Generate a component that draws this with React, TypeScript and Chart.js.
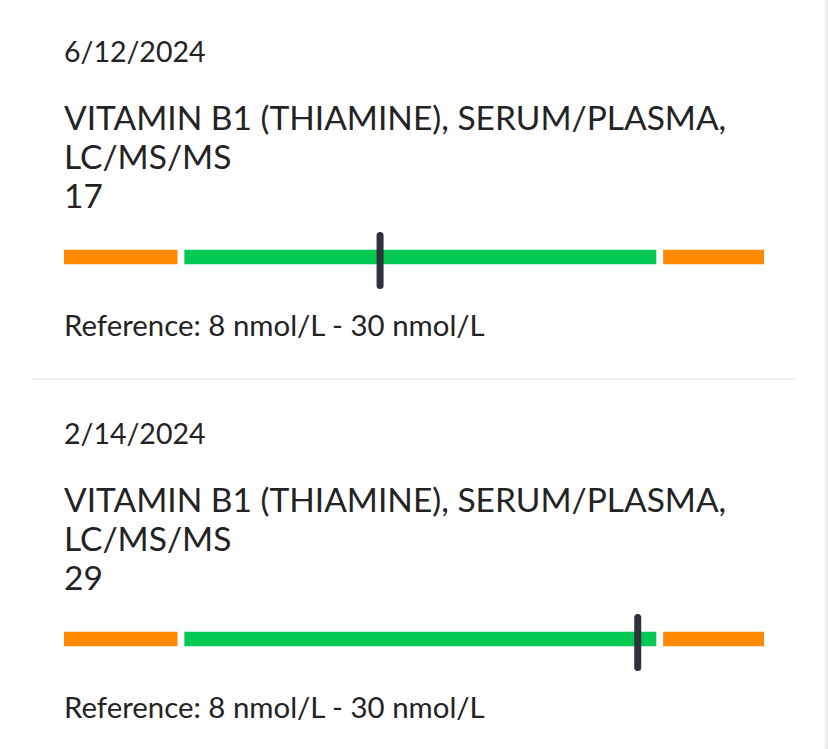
import React, { useEffect, useRef } from "react";
import { Chart, registerables } from "chart.js";

Chart.register(...registerables);

const dates = ["6/12/2024", "2/14/2024"];
const testName = "VITAMIN B1 (THIAMINE), SERUM/PLASMA, LC/MS/MS";
const results = [17, 29];
const refLow = 8;
const refHigh = 30;
const unit = "nmol/L";
const trackMin = 2.28;
const trackMax = 34.88;
const lowBand = [2.28, 7.55];
const normalBand = [7.9, 29.85];
const highBand = [30.2, 34.88];

const ORANGE = "#ff8a00";
const GREEN = "#03c853";
const MARKER = "#2d3339";
const TEXT = "#232323";
const FONT = "Lato, 'Noto Sans', sans-serif";

function RangeBar({ value }: { value: number }) {
  const ref = useRef<HTMLCanvasElement | null>(null);
  useEffect(() => {
    if (!ref.current) return;
    const markerPlugin = {
      id: "marker",
      afterDatasetsDraw(chart: any) {
        const ctx = chart.ctx;
        const x = chart.scales.x.getPixelForValue(value);
        const bar = chart.getDatasetMeta(0).data[0];
        const y = bar.y;
        ctx.save();
        ctx.strokeStyle = MARKER;
        ctx.lineWidth = 7;
        ctx.lineCap = "round";
        ctx.beginPath();
        ctx.moveTo(x, y - 21.5);
        ctx.lineTo(x, y + 28.5);
        ctx.stroke();
        ctx.restore();
      },
    };
    const chart = new Chart(ref.current, {
      type: "bar",
      data: {
        labels: ["range"],
        datasets: [
          { data: [lowBand as any], backgroundColor: ORANGE },
          { data: [normalBand as any], backgroundColor: GREEN },
          { data: [highBand as any], backgroundColor: ORANGE },
        ],
      },
      options: {
        indexAxis: "y",
        responsive: false,
        animation: false,
        events: [],
        layout: { padding: { top: 0, bottom: 6, left: 0, right: 0 } },
        datasets: { bar: { grouped: false, barThickness: 14, borderWidth: 0 } } as any,
        scales: {
          x: { type: "linear", min: trackMin, max: trackMax, display: false },
          y: { display: false },
        },
        plugins: { legend: { display: false }, tooltip: { enabled: false } },
      },
      plugins: [markerPlugin],
    });
    return () => chart.destroy();
  }, [value]);
  return (
    <canvas
      ref={ref}
      width={700}
      height={72}
      style={{ position: "absolute", left: 64, top: 224, width: 700, height: 72 }}
    />
  );
}

function Card({ top, date, value }: { top: number; date: string; value: number }) {
  const base: React.CSSProperties = {
    position: "absolute",
    left: 64,
    fontFamily: FONT,
    color: TEXT,
    margin: 0,
    whiteSpace: "normal",
  };
  return (
    <div style={{ position: "absolute", left: 0, top, width: 828, height: 382 }}>
      <div style={{ ...base, top: 33.4, fontSize: 28.5, lineHeight: "36px" }}>{date}</div>
      <div style={{ ...base, top: 97.5, width: 730, fontSize: 33.5, lineHeight: "39px" }}>{testName}</div>
      <div style={{ ...base, top: 175.5, fontSize: 33.5, lineHeight: "39px" }}>{value}</div>
      <RangeBar value={value} />
      <div style={{ ...base, top: 306.7, fontSize: 29.4, lineHeight: "36px" }}>
        {`Reference: ${refLow} ${unit} - ${refHigh} ${unit}`}
      </div>
    </div>
  );
}

export default function App() {
  return (
    <div
      style={{
        position: "fixed",
        left: 0,
        top: 0,
        width: 828,
        height: 749,
        background: "#ffffff",
        overflow: "hidden",
      }}
    >
      <Card top={0} date={dates[0]} value={results[0]} />
      <div
        style={{ position: "absolute", left: 32, top: 378, width: 764, height: 2, background: "#f0f0f0" }}
      />
      <Card top={382} date={dates[1]} value={results[1]} />
      <div
        style={{
          position: "absolute",
          right: 0,
          top: 0,
          width: 4,
          height: 749,
          background: "linear-gradient(to right, #fafafa, #e6e6e6)",
        }}
      />
    </div>
  );
}
